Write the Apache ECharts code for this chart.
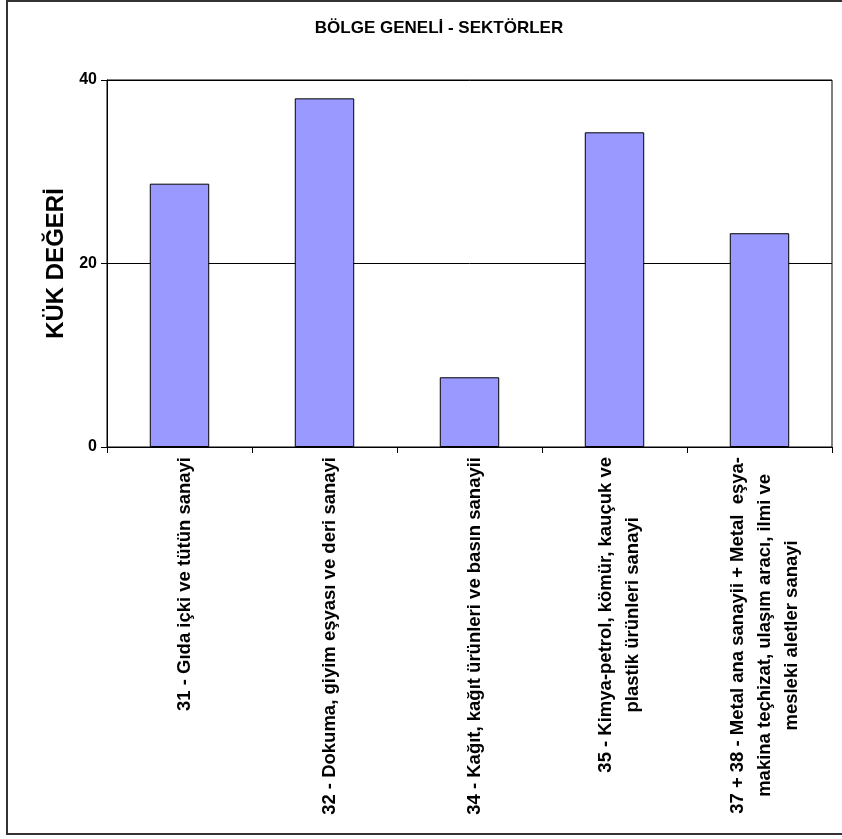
<!DOCTYPE html>
<html>
<head>
<meta charset="utf-8">
<style>
    html, body { margin: 0; padding: 0; background: #fff; }
    #main { width: 842px; height: 839px; }
</style>
<script src="https://cdn.jsdelivr.net/npm/echarts@6/dist/echarts.min.js"></script>
</head>
<body>
<div id="main"></div>
<script>
    var titleText = 'BÖLGE GENELİ - SEKTÖRLER';
    var yName = 'KÜK DEĞERİ';
    var categories = [
        '31 - Gıda içki ve tütün sanayi',
        '32 - Dokuma, giyim eşyası ve deri sanayi',
        '34 - Kağıt, kağıt ürünleri ve basın sanayii',
        '35 - Kimya-petrol, kömür, kauçuk ve\nplastik ürünleri sanayi',
        '37 + 38 - Metal ana sanayii + Metal  eşya-\nmakina teçhizat, ulaşım aracı, ilmi ve\nmesleki aletler sanayi'
    ];
    var values = [28.7, 38.0, 7.6, 34.3, 23.3];
    var yMin = 0, yMax = 40, yStep = 20;

    var font = '"Liberation Sans", Arial, sans-serif';
    var chart = echarts.init(document.getElementById('main'));

    chart.setOption({
        animation: false,
        backgroundColor: '#fff',
        graphic: [{
            type: 'rect',
            shape: { x: 7, y: 1, width: 850, height: 833 },
            style: { fill: null, stroke: '#333', lineWidth: 2 }
        }, {
            type: 'text',
            x: 439,
            y: 28,
            style: {
                text: titleText,
                textAlign: 'center',
                textVerticalAlign: 'middle',
                fill: '#000',
                font: 'bold 17px ' + font
            }
        }],
        grid: {
            left: 107,
            right: 10,
            top: 80,
            bottom: 392,
            containLabel: false,
            outerBoundsMode: 'none',
            show: true,
            borderColor: '#000',
            borderWidth: 1
        },
        xAxis: {
            type: 'category',
            data: categories,
            axisLine: { lineStyle: { color: '#000', width: 1 } },
            axisTick: { show: true, length: 6, lineStyle: { color: '#000' } },
            axisLabel: {
                interval: 0,
                rotate: 90,
                margin: 10,
                padding: [10, 0, 0, 0],
                formatter: function (v) {
                    return v.split('\n').map(function (l) { return '{c|' + l + '}'; }).join('\n');
                },
                rich: {
                    c: {
                        align: 'center',
                        fontSize: 18.5,
                        fontWeight: 'bold',
                        fontFamily: font,
                        color: '#000',
                        lineHeight: 27
                    }
                }
            }
        },
        yAxis: {
            type: 'value',
            min: yMin,
            max: yMax,
            interval: yStep,
            name: yName,
            nameLocation: 'middle',
            nameRotate: 90,
            nameGap: 37,
            nameTextStyle: { fontSize: 24, fontWeight: 'bold', fontFamily: font, color: '#000' },
            axisLine: { show: true, lineStyle: { color: '#000', width: 1 } },
            axisTick: { show: true, length: 6, lineStyle: { color: '#000' } },
            axisLabel: { fontSize: 16, fontWeight: 'bold', fontFamily: font, color: '#000', margin: 10 },
            splitLine: { show: true, lineStyle: { color: '#000', width: 1 } }
        },
        series: [{
            type: 'bar',
            data: values,
            barWidth: '41%',
            itemStyle: { color: '#9999FF', borderColor: '#000', borderWidth: 1 }
        }]
    });
</script>
</body>
</html>
